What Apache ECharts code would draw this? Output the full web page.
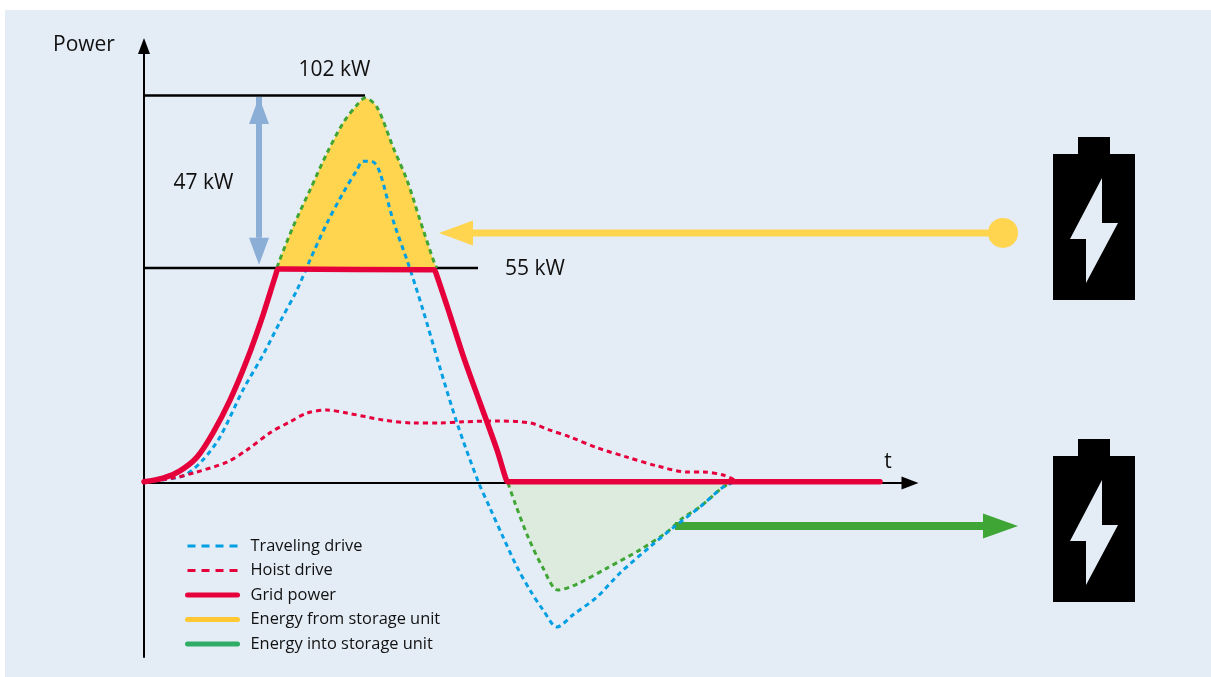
<!DOCTYPE html>
<html>
<head>
    <meta charset="utf-8">
    <title>Grid power with storage unit</title>
    <script src="https://cdn.jsdelivr.net/npm/echarts@6/dist/echarts.min.js"></script>
    <style>
        html, body { margin: 0; padding: 0; background: #fff; }
        #main { width: 1211px; height: 677px; }
    </style>
</head>
<body>
    <div id="main"></div>
    <script>
        var gridPower = [[0, 0.3], [1.9, 1.3], [3.6, 3.2], [5.3, 6.8], [6.9, 13.2], [8.6, 21.8], [10.3, 32.4], [11.9, 44.2], [13.2, 55], [13.4, 56.3], [13.9, 56.3], [28.6, 56.1], [29, 56.1], [29.2, 55.2], [30.6, 44.2], [31.9, 33.6], [33.6, 21.1], [35.3, 8.7], [36.2, 1], [36.4, 0.3], [36.8, 0.3], [73.6, 0.3]];
        var travelingDrive = [[0, 0.3], [1.9, 0.8], [4.1, 2.1], [5.9, 6.1], [7.6, 12.1], [9.9, 24.5], [11.9, 33.7], [13.6, 42.4], [15.3, 50.8], [16.6, 58.7], [18.3, 68.4], [19.9, 76.3], [21.3, 82.4], [21.9, 84.7], [22.9, 84.5], [23.6, 81.6], [24.9, 69.2], [26.4, 57.9], [27.9, 45.5], [29.6, 30.3], [31.3, 15.8], [33.4, 0.5], [34.6, -6.6], [35.9, -14.2], [37.3, -22.1], [38.6, -28.2], [39.9, -33.4], [41.3, -37.9], [42.9, -34.7], [45.3, -30], [47.6, -23.7], [50.6, -16.8], [52.9, -11.8], [55.6, -6.3], [57.9, -1.1], [59.1, 0.3]];
        var hoistDrive = [[0, 0.3], [2.9, 1.3], [5.3, 2.9], [8.3, 5.5], [10.3, 8.7], [12.6, 13.2], [14.6, 16.1], [16.3, 18.4], [18.3, 19.2], [20.3, 18.4], [23.9, 16.6], [26.9, 15.8], [29.6, 15.8], [31.9, 16.1], [35.3, 16.3], [38.6, 15.8], [40.6, 13.9], [42.6, 12.1], [45.4, 9.2], [48.3, 6.8], [51.3, 4.5], [54.3, 2.9], [55.9, 2.9], [57.9, 2.1], [59.3, 0.5]];
        var fromStorage = [[13.3, 56.6], [13.5, 58.2], [14.9, 67.4], [16.6, 77.1], [18.3, 86.8], [19.9, 94.7], [21.3, 99.5], [22.1, 101.3], [23.3, 98.9], [24.9, 88.4], [26.3, 79.7], [27.6, 69.2], [29.1, 57.4], [29.3, 56.6]];
        var intoStorage = [[36.4, 0], [37.1, -5.3], [38.4, -14.2], [39.9, -22.4], [41.4, -28.2], [43.3, -26.6], [46.3, -22.4], [49.6, -17.6], [52.3, -12.9], [53.9, -9.2], [55.6, -6.3], [57.9, -1.1], [58.9, 0.3]];
        var intoStorageTop = [[36.4, 0.6], [58.9, 0.6]];
        var peakLine = [[0, 102], [22.1, 102]];
        var limitLine = [[0, 56.6], [33.4, 56.6]];
        var arrowEnds = [[11.5, 101.6, 11.5, 57.4], [85.9, 65.8, 29.5, 65.8], [53.1, -11.3, 87.4, -11.3]];

        var legendNames = ['Traveling drive', 'Hoist drive', 'Grid power', 'Energy from storage unit', 'Energy into storage unit'];

        var BLUE = '#009fe3', RED = '#e5003c', GREEN = '#3fa535';
        var FONT = '"Open Sans"';
        var arrowStyles = [
            { color: '#8aaed6', shaft: 6, head: 20, len: 27, both: true },
            { color: '#ffd54f', shaft: 7, head: 25, len: 34, dot: 15 },
            { color: GREEN, shaft: 8, head: 25, len: 35 }
        ];

        function dashed(name, data, color) {
            return {
                name: name, type: 'line', data: data, symbol: 'none', silent: true, smooth: 0.3,
                lineStyle: { color: color, width: 3, type: [5, 4] }
            };
        }
        function ruleLine(data) {
            return {
                type: 'line', data: data, symbol: 'none', silent: true, z: 1,
                lineStyle: { color: '#000', width: 2.5 }
            };
        }
        function headPoints(tip, ux, uy, s) {
            var bx = tip[0] - ux * s.len, by = tip[1] - uy * s.len;
            return [tip, [bx - uy * s.head / 2, by + ux * s.head / 2], [bx + uy * s.head / 2, by - ux * s.head / 2]];
        }
        function renderArrow(params, api) {
            var s = arrowStyles[params.dataIndex];
            var a = api.coord([api.value(0), api.value(1)]);
            var b = api.coord([api.value(2), api.value(3)]);
            var d = Math.sqrt((b[0] - a[0]) * (b[0] - a[0]) + (b[1] - a[1]) * (b[1] - a[1]));
            var ux = (b[0] - a[0]) / d, uy = (b[1] - a[1]) / d;
            var style = { fill: s.color };
            var children = [
                { type: 'line', shape: { x1: a[0], y1: a[1], x2: b[0] - ux * s.len, y2: b[1] - uy * s.len }, style: { stroke: s.color, lineWidth: s.shaft } },
                { type: 'polygon', shape: { points: headPoints(b, ux, uy, s) }, style: style }
            ];
            if (s.both) {
                children.push({ type: 'polygon', shape: { points: headPoints(a, -ux, -uy, s) }, style: style });
            }
            if (s.dot) {
                children.push({ type: 'circle', shape: { cx: a[0], cy: a[1], r: s.dot }, style: style });
            }
            return { type: 'group', children: children };
        }

        function label(text, x, y, align) {
            return {
                type: 'text', x: x, y: y, z: 20,
                style: { text: text, font: '21px ' + FONT, fill: '#111', textAlign: align || 'center', textVerticalAlign: 'middle' }
            };
        }
        function battery(dy) {
            return {
                type: 'group', y: dy, z: 5,
                children: [
                    { type: 'rect', shape: { x: 1053, y: 154, width: 82, height: 146 }, style: { fill: '#000' } },
                    { type: 'rect', shape: { x: 1078, y: 137, width: 32, height: 18 }, style: { fill: '#000' } },
                    { type: 'polygon', z: 6, shape: { points: [[1102, 178], [1102, 223], [1118, 223], [1086, 283], [1086, 239], [1070, 239]] }, style: { fill: '#e4ecf6' } }
                ]
            };
        }
        function legendDash(color) {
            return { color: color, width: 3, type: [8, 6] };
        }
        function legendSolid(color) {
            return { color: color, width: 5, type: 'solid', cap: 'round' };
        }

        var fromSeries = dashed(legendNames[3], fromStorage, GREEN);
        fromSeries.areaStyle = { color: '#ffd54f', opacity: 1, origin: 56.6 };
        var intoSeries = dashed(legendNames[4], intoStorage, GREEN);
        intoSeries.areaStyle = { color: '#dcebdd', opacity: 1, origin: 0.6 };
        var gridSeries = {
            name: legendNames[2], type: 'line', data: gridPower, symbol: 'none', silent: true, z: 4,
            smooth: 0.3,
            lineStyle: { color: RED, width: 5.5, join: 'round', cap: 'round' }
        };

        var myChart = echarts.init(document.getElementById('main'));
        myChart.setOption({
            animation: false,
            textStyle: { fontFamily: FONT },
            grid: { left: 144, top: 46, width: 766, height: 611 },
            xAxis: {
                type: 'value', min: 0, max: 76.6,
                splitLine: { show: false }, axisTick: { show: false }, axisLabel: { show: false },
                axisLine: { onZero: true, symbol: ['none', 'triangle'], symbolSize: [13, 17], lineStyle: { color: '#000', width: 2 } }
            },
            yAxis: {
                type: 'value', min: -45.8, max: 115,
                splitLine: { show: false }, axisTick: { show: false }, axisLabel: { show: false },
                axisLine: { onZero: true, symbol: ['none', 'triangle'], symbolSize: [12, 16], lineStyle: { color: '#000', width: 2 } }
            },
            legend: {
                left: 185, top: 538, orient: 'vertical', padding: 0,
                itemWidth: 50, itemHeight: 14, itemGap: 8.5, selectedMode: false,
                textStyle: { fontFamily: FONT, fontSize: 16.4, lineHeight: 16, color: '#111', padding: [0, 0, 0, 8] },
                data: [
                    { name: legendNames[0], lineStyle: legendDash(BLUE), itemStyle: { opacity: 0 } },
                    { name: legendNames[1], lineStyle: legendDash(RED), itemStyle: { opacity: 0 } },
                    { name: legendNames[2], lineStyle: legendSolid(RED), itemStyle: { opacity: 0 } },
                    { name: legendNames[3], lineStyle: legendSolid('#ffc832'), itemStyle: { opacity: 0 } },
                    { name: legendNames[4], lineStyle: legendSolid('#2fad66'), itemStyle: { opacity: 0 } }
                ]
            },
            graphic: [
                { type: 'rect', z: -10, shape: { x: 5, y: 10, width: 1206, height: 667 }, style: { fill: '#e4ecf6' } },
                label('Power', 84, 45.5),
                label('102 kW', 334.5, 70.5),
                label('47 kW', 203.5, 183),
                label('55 kW', 535, 269.5),
                label('t', 888, 462.5),
                battery(0),
                battery(302)
            ],
            series: [
                ruleLine(peakLine),
                ruleLine(limitLine),
                fromSeries,
                intoSeries,
                dashed('intoTop', intoStorageTop, GREEN),
                dashed(legendNames[0], travelingDrive, BLUE),
                dashed(legendNames[1], hoistDrive, RED),
                gridSeries,
                {
                    type: 'custom', silent: true, z: 3, clip: false,
                    data: arrowEnds,
                    encode: { x: [0, 2], y: [1, 3] },
                    renderItem: renderArrow
                }
            ]
        });
    </script>
</body>
</html>
